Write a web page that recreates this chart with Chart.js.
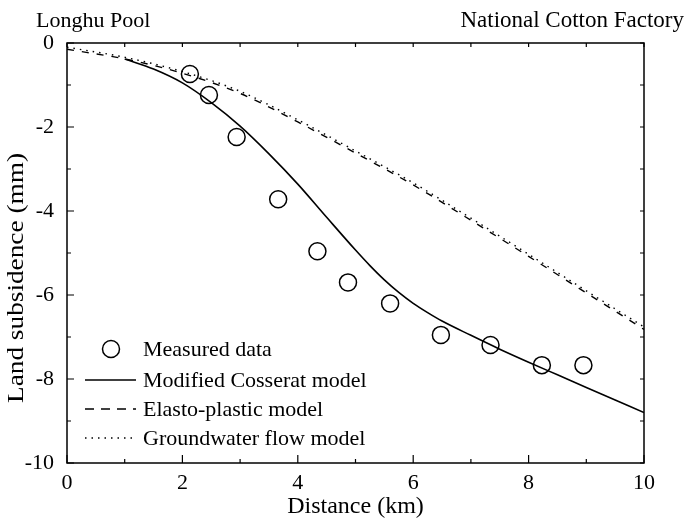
<!DOCTYPE html>
<html>
<head>
<meta charset="utf-8">
<script src="https://cdn.jsdelivr.net/npm/chart.js@4/dist/chart.umd.min.js"></script>
<style>
  html, body { margin: 0; padding: 0; background: #fff; }
  #wrap { width: 687px; height: 522px; }
</style>
</head>
<body>
<div id="wrap"><canvas id="myChart"></canvas></div>
<script>
// measured points (km, mm)
const measuredX = [2.13, 2.46, 2.94, 3.66, 4.34, 4.87, 5.60, 6.48, 7.34, 8.23, 8.95];
const measuredY = [-0.74, -1.24, -2.24, -3.72, -4.96, -5.70, -6.20, -6.95, -7.19, -7.67, -7.67];

// modified Cosserat model
const cosseratX = [1, 1.5, 2, 2.5, 3, 3.5, 4, 4.5, 5, 5.25, 5.5, 5.75, 6, 6.25, 6.5, 7, 7.5, 8, 8.5, 9, 9.5, 10];
const cosseratY = [-0.38, -0.62, -0.95, -1.42, -1.98, -2.64, -3.36, -4.15, -4.93, -5.3, -5.64, -5.94, -6.2, -6.42, -6.62, -6.96, -7.29, -7.6, -7.9, -8.2, -8.5, -8.8];

// elasto-plastic model
const elastoX = [0, 1, 2, 3, 4, 5, 6, 7, 8, 9, 10];
const elastoY = [-0.15, -0.38, -0.72, -1.2, -1.88, -2.62, -3.38, -4.22, -5.08, -5.95, -6.82];

// groundwater flow model
const groundX = [0, 1, 2, 3, 4, 5, 6, 7, 8, 9, 10];
const groundY = [-0.1, -0.34, -0.68, -1.15, -1.83, -2.57, -3.33, -4.17, -5.03, -5.9, -6.76];

const xTicks = [0, 2, 4, 6, 8, 10];
const yTicks = [0, -2, -4, -6, -8, -10];

const serif = "'Liberation Serif', 'Times New Roman', serif";

function pts(xs, ys) {
    return xs.map((x, i) => ({x: x, y: ys[i]}));
}

const legendItems = [
    {label: 'Measured data', kind: 'circle'},
    {label: 'Modified Cosserat model', dash: []},
    {label: 'Elasto-plastic model', dash: [9, 7]},
    {label: 'Groundwater flow model', dash: [1.5, 5]}
];

const decor = {
    id: 'decor',
    afterDraw(chart) {
        const ctx = chart.ctx;
        const a = chart.chartArea;
        const xs = chart.scales.x, ys = chart.scales.y;
        ctx.save();
        ctx.strokeStyle = '#000';
        ctx.lineWidth = 1.5;
        ctx.strokeRect(a.left, a.top, a.right - a.left, a.bottom - a.top);
        ctx.lineWidth = 1.2;
        ctx.beginPath();
        for (let v = 0; v <= 10; v++) {
            const px = xs.getPixelForValue(v);
            const len = v % 2 === 0 ? 8 : 4;
            ctx.moveTo(px, a.bottom); ctx.lineTo(px, a.bottom - len);
            ctx.moveTo(px, a.top); ctx.lineTo(px, a.top + 4);
        }
        for (let v = 0; v >= -10; v--) {
            const py = ys.getPixelForValue(v);
            const len = v % 2 === 0 ? 7 : 4;
            ctx.moveTo(a.left, py); ctx.lineTo(a.left + len, py);
            ctx.moveTo(a.right, py); ctx.lineTo(a.right - 4, py);
        }
        ctx.stroke();

        // top labels
        ctx.fillStyle = '#000';
        ctx.font = '22px ' + serif;
        ctx.textBaseline = 'alphabetic';
        ctx.textAlign = 'left';
        ctx.fillText('Longhu Pool', 36, 27);
        ctx.textAlign = 'right';
        ctx.font = '23px ' + serif;
        ctx.fillText('National Cotton Factory', 684, 27);

        // y axis title (stretched along its length like the reference)
        const yTitle = 'Land subsidence (mm)';
        ctx.font = '23px ' + serif;
        const w = ctx.measureText(yTitle).width;
        ctx.save();
        ctx.translate(17, 278);
        ctx.rotate(-Math.PI / 2);
        ctx.scale(250 / w, 1);
        ctx.textAlign = 'center';
        ctx.textBaseline = 'middle';
        ctx.fillText(yTitle, 0, 0);
        ctx.restore();

        // legend
        ctx.font = '22px ' + serif;
        ctx.textAlign = 'left';
        ctx.textBaseline = 'middle';
        const rowY = [349, 380, 409, 438];
        legendItems.forEach((it, i) => {
            const y = rowY[i];
            ctx.strokeStyle = '#000';
            if (it.kind === 'circle') {
                ctx.lineWidth = 1.5;
                ctx.beginPath();
                ctx.arc(111, y, 8.5, 0, Math.PI * 2);
                ctx.stroke();
            } else {
                ctx.lineWidth = 1.5;
                ctx.setLineDash(it.dash);
                ctx.beginPath();
                ctx.moveTo(85, y); ctx.lineTo(136, y);
                ctx.stroke();
                ctx.setLineDash([]);
            }
            ctx.fillText(it.label, 143, y + 1);
        });
        ctx.restore();
    }
};

const ctx = document.getElementById('myChart');
const myChart = new Chart(ctx, {
    type: 'scatter',
    data: {
        datasets: [
            {
                label: 'Modified Cosserat model',
                data: pts(cosseratX, cosseratY),
                showLine: true,
                borderColor: '#000',
                borderWidth: 1.6,
                pointRadius: 0,
                cubicInterpolationMode: 'monotone'
            },
            {
                label: 'Elasto-plastic model',
                data: pts(elastoX, elastoY),
                showLine: true,
                borderColor: '#000',
                borderWidth: 1.4,
                borderDash: [7, 8],
                pointRadius: 0,
                cubicInterpolationMode: 'monotone'
            },
            {
                label: 'Groundwater flow model',
                data: pts(groundX, groundY),
                showLine: true,
                borderColor: '#000',
                borderWidth: 1.4,
                borderDash: [1.5, 5],
                pointRadius: 0,
                cubicInterpolationMode: 'monotone'
            },
            {
                label: 'Measured data',
                data: pts(measuredX, measuredY),
                showLine: false,
                pointStyle: 'circle',
                pointRadius: 8.5,
                pointBorderWidth: 1.5,
                pointBorderColor: '#000',
                pointBackgroundColor: 'rgba(255,255,255,0)'
            }
        ]
    },
    options: {
        responsive: true,
        maintainAspectRatio: false,
        animation: false,
        layout: { padding: { top: 43, right: 43, left: 0, bottom: 0 } },
        plugins: {
            legend: { display: false },
            tooltip: { enabled: false }
        },
        scales: {
            x: {
                type: 'linear',
                min: 0,
                max: 10,
                afterFit: (s) => { s.height = 59; },
                afterBuildTicks: (s) => { s.ticks = xTicks.map(v => ({value: v})); },
                grid: { display: false, drawTicks: false },
                border: { display: false },
                ticks: {
                    color: '#000',
                    padding: 7,
                    font: { family: serif, size: 22 },
                    maxRotation: 0
                },
                title: {
                    display: true,
                    text: 'Distance (km)',
                    color: '#000',
                    font: { family: serif, size: 24 },
                    padding: { top: 0, bottom: 1 }
                }
            },
            y: {
                type: 'linear',
                min: -10,
                max: 0,
                afterFit: (s) => { s.width = 67; },
                afterBuildTicks: (s) => { s.ticks = yTicks.map(v => ({value: v})); },
                grid: { display: false, drawTicks: false },
                border: { display: false },
                ticks: {
                    color: '#000',
                    padding: 13,
                    font: { family: serif, size: 22 }
                },
                title: { display: false }
            }
        }
    },
    plugins: [decor]
});
</script>
</body>
</html>
